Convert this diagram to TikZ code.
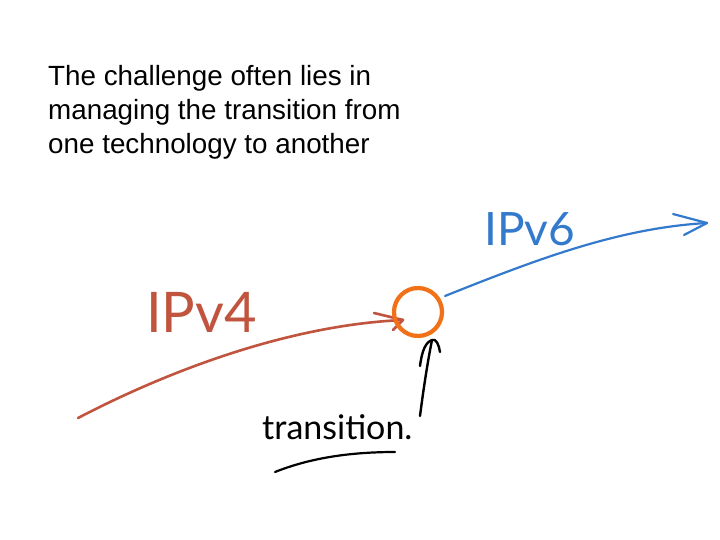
\documentclass[tikz,border=0pt]{standalone}
\usepackage{fontspec}
\setmainfont{Liberation Sans}
\newfontfamily\hand{Lato}
\definecolor{redline}{RGB}{192,84,62}
\definecolor{blueline}{RGB}{52,122,204}
\definecolor{orangering}{RGB}{242,112,22}
\begin{document}
\begin{tikzpicture}[x=1pt,y=-1pt,
  handline/.style={line width=2.6pt,line cap=round,line join=round},
  handtext/.style={font=\hand\fontsize{34}{34}\selectfont,inner sep=0pt,anchor=base west}]
\useasboundingbox[fill=white] (0,0) rectangle (720,540);
% caption
\node[anchor=base west,inner sep=0pt,align=left,font=\fontsize{27.8}{34}\selectfont] (caption) at (48,154)
  {The challenge often lies in\\managing the transition from\\one technology to another};
% IPv4 line
\coordinate (r0) at (78,418);
\coordinate (r1) at (403,320);
\draw[handline,redline] (r0) .. controls (170,370) and (290,325) .. (r1);
\coordinate (ra) at (374,313);
\coordinate (rb) at (393,330);
\draw[handline,redline] (ra) -- (r1) -- (rb);
\node[handtext,redline,font=\hand\fontsize{56}{56}\selectfont] (ipv4) at (146,332) {IPv4};
% transition ring
\node[draw=orangering,line width=4.2pt,circle,minimum size=48pt,inner sep=0pt] (ring) at (418,312) {};
% IPv6 line
\coordinate (b0) at (445,296);
\coordinate (b1) at (707,223);
\draw[handline,blueline,line width=2.2pt] (b0) .. controls (540,258) and (620,228) .. (b1);
\coordinate (ba) at (673,214);
\coordinate (bb) at (684,235);
\draw[handline,blueline,line width=2.2pt] (ba) -- (b1) -- (bb);
\node[handtext,blueline,font=\hand\fontsize{46}{46}\selectfont] (ipv6) at (484,245) {IPv6};
% transition arrow
\coordinate (k0) at (420,416);
\coordinate (k1) at (432,340);
\draw[handline,black,line width=2.4pt] (k0) .. controls (424,385) and (428,360) .. (k1);
\coordinate (ka) at (420,366);
\coordinate (kb) at (440,352);
\draw[handline,black,line width=2.4pt] (ka) .. controls (422,350) and (426,342) .. (k1) .. controls (436,338) and (439,345) .. (kb);
\node[handtext,black,font=\hand\fontsize{34}{34}\selectfont] (trans) at (262,439) {transition.};
% underline
\coordinate (u0) at (275,472);
\coordinate (u1) at (395,452);
\draw[handline,black,line width=2.2pt] (u0) .. controls (310,458) and (350,452) .. (u1);
\end{tikzpicture}
\end{document}
